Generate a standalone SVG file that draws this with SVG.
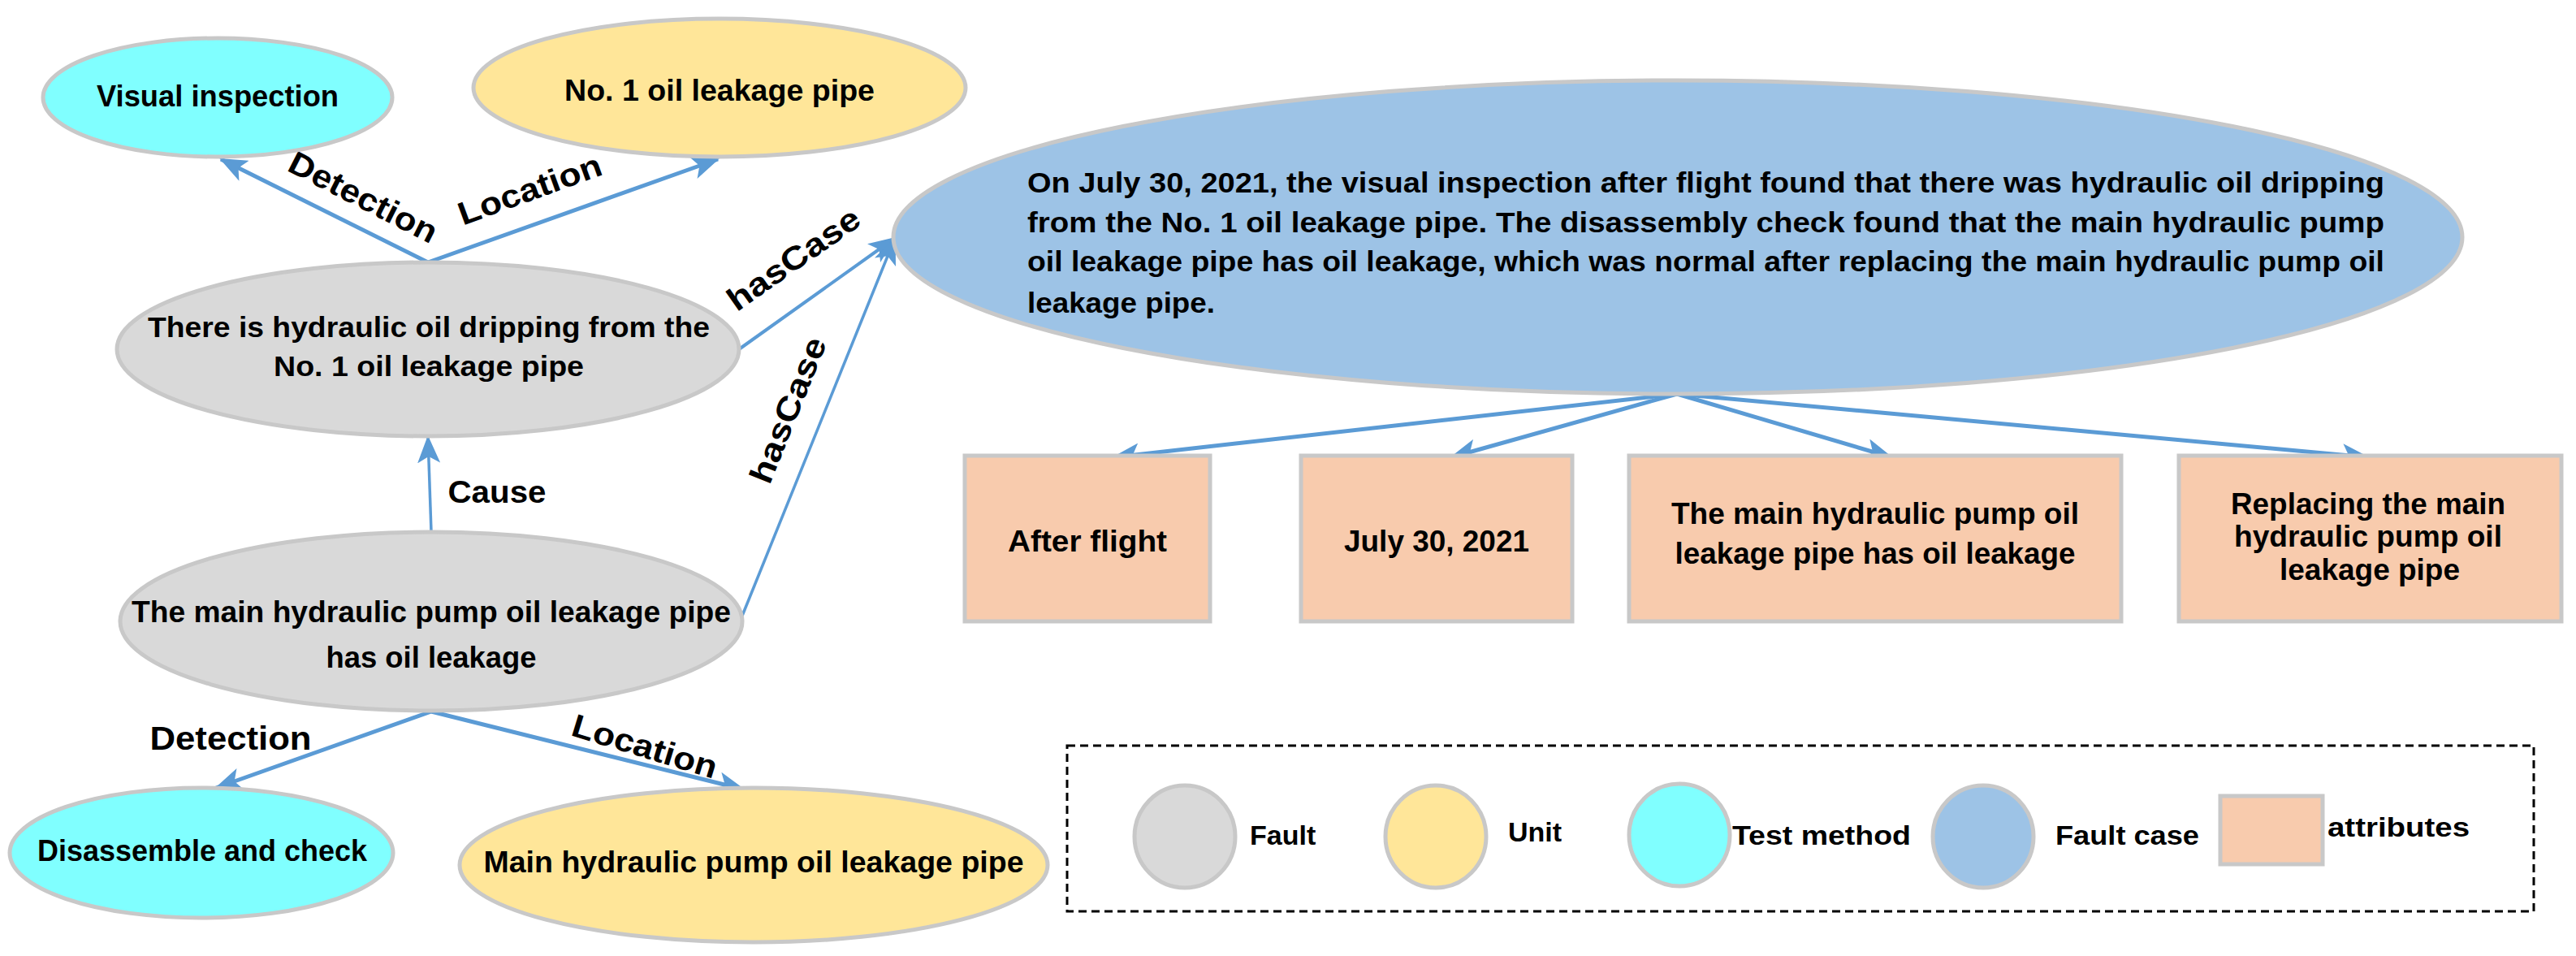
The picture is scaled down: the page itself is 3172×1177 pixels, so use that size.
<svg xmlns="http://www.w3.org/2000/svg" width="3172" height="1177" viewBox="0 0 3172 1177">
<defs>
<marker id="ah" markerUnits="userSpaceOnUse" markerWidth="34" markerHeight="28" refX="32" refY="14" orient="auto"><path d="M0,0 L34,14 L0,28 L8,14 Z" fill="#5b9bd5"/></marker>
<style>
.t{font-family:"Liberation Sans",Arial,sans-serif;font-weight:bold;fill:#000;text-anchor:middle}
.n{stroke:#c8c8c8;stroke-width:5}
.e{stroke:#5b9bd5;fill:none;marker-end:url(#ah)}
.cy{fill:#80ffff}.ye{fill:#ffe699}.gr{fill:#d9d9d9}.bl{fill:#9dc3e6}.pk{fill:#f8cbad}
</style>
</defs>
<rect width="3172" height="1177" fill="#fff"/>
<g id="connectors">
<line class="e" stroke-width="5" x1="527" y1="323" x2="272" y2="196"/>
<line class="e" stroke-width="5" x1="527" y1="323" x2="884" y2="196"/>
<line class="e" stroke-width="4" x1="910" y1="430" x2="1102" y2="293"/>
<line class="e" stroke-width="3.5" x1="914" y1="758" x2="1102" y2="293"/>
<line class="e" stroke-width="3.5" x1="531" y1="655" x2="527" y2="538"/>
<line class="e" stroke-width="5" x1="531" y1="876" x2="266" y2="970"/>
<line class="e" stroke-width="5" x1="531" y1="876" x2="916" y2="972"/>
<line class="e" stroke-width="5" x1="2065" y1="485" x2="1371" y2="563"/>
<line class="e" stroke-width="5" x1="2065" y1="485" x2="1787" y2="563"/>
<line class="e" stroke-width="5" x1="2065" y1="485" x2="2329" y2="563"/>
<line class="e" stroke-width="5" x1="2065" y1="485" x2="2916" y2="563"/>
<text class="t" font-size="40" transform="translate(441,255) rotate(27)" textLength="200" lengthAdjust="spacingAndGlyphs">Detection</text>
<text class="t" font-size="40" transform="translate(657,246) rotate(-20)" textLength="185" lengthAdjust="spacingAndGlyphs">Location</text>
<text class="t" font-size="40" transform="translate(985,330) rotate(-35)" textLength="190" lengthAdjust="spacingAndGlyphs">hasCase</text>
<text class="t" font-size="40" transform="translate(983,510) rotate(-68)" textLength="190" lengthAdjust="spacingAndGlyphs">hasCase</text>
<text class="t" font-size="38" x="612" y="619" textLength="121" lengthAdjust="spacingAndGlyphs">Cause</text>
<text class="t" font-size="40" x="284" y="923" textLength="199" lengthAdjust="spacingAndGlyphs">Detection</text>
<text class="t" font-size="40" transform="translate(790,932) rotate(17)" textLength="185" lengthAdjust="spacingAndGlyphs">Location</text>
</g>
<g id="visual-inspection"><ellipse class="n cy" cx="268" cy="120" rx="215" ry="73"/><text class="t" font-size="36" x="268" y="131" textLength="298" lengthAdjust="spacingAndGlyphs">Visual inspection</text></g>
<g id="no1-pipe"><ellipse class="n ye" cx="886" cy="108" rx="303" ry="85"/><text class="t" font-size="36" x="886" y="124" textLength="382" lengthAdjust="spacingAndGlyphs">No. 1 oil leakage pipe</text></g>
<g id="fault1"><ellipse class="n gr" cx="527" cy="430" rx="383" ry="107"/><text class="t" font-size="35" x="528" y="415" textLength="692" lengthAdjust="spacingAndGlyphs">There is hydraulic oil dripping from the</text><text class="t" font-size="35" x="528" y="463" textLength="382" lengthAdjust="spacingAndGlyphs">No. 1 oil leakage pipe</text></g>
<g id="fault2"><ellipse class="n gr" cx="531" cy="765" rx="383" ry="110"/><text class="t" font-size="36" x="531" y="766" textLength="738" lengthAdjust="spacingAndGlyphs">The main hydraulic pump oil leakage pipe</text><text class="t" font-size="36" x="531" y="822" textLength="259" lengthAdjust="spacingAndGlyphs">has oil leakage</text></g>
<g id="disassemble"><ellipse class="n cy" cx="248" cy="1050" rx="236" ry="80"/><text class="t" font-size="36" x="249" y="1060" textLength="406" lengthAdjust="spacingAndGlyphs">Disassemble and check</text></g>
<g id="main-pipe"><ellipse class="n ye" cx="928" cy="1065" rx="362" ry="95"/><text class="t" font-size="36" x="928" y="1074" textLength="665" lengthAdjust="spacingAndGlyphs">Main hydraulic pump oil leakage pipe</text></g>
<g id="fault-case"><ellipse class="n bl" cx="2066" cy="292" rx="966" ry="193"/>
<text class="t" font-size="35" text-anchor="start" style="text-anchor:start" x="1265" y="237" textLength="1671" lengthAdjust="spacingAndGlyphs">On July 30, 2021, the visual inspection after flight found that there was hydraulic oil dripping</text>
<text class="t" font-size="35" style="text-anchor:start" x="1265" y="286" textLength="1671" lengthAdjust="spacingAndGlyphs">from the No. 1 oil leakage pipe. The disassembly check found that the main hydraulic pump</text>
<text class="t" font-size="35" style="text-anchor:start" x="1265" y="334" textLength="1671" lengthAdjust="spacingAndGlyphs">oil leakage pipe has oil leakage, which was normal after replacing the main hydraulic pump oil</text>
<text class="t" font-size="35" style="text-anchor:start" x="1265" y="385" textLength="231" lengthAdjust="spacingAndGlyphs">leakage pipe.</text></g>
<g id="attr-after-flight"><rect class="n pk" x="1188" y="561" width="302" height="204"/><text class="t" font-size="36" x="1339" y="679" textLength="196" lengthAdjust="spacingAndGlyphs">After flight</text></g>
<g id="attr-date"><rect class="n pk" x="1602" y="561" width="334" height="204"/><text class="t" font-size="36" x="1769" y="679" textLength="228" lengthAdjust="spacingAndGlyphs">July 30, 2021</text></g>
<g id="attr-leak"><rect class="n pk" x="2006" y="561" width="606" height="204"/><text class="t" font-size="36" x="2309" y="645" textLength="502" lengthAdjust="spacingAndGlyphs">The main hydraulic pump oil</text><text class="t" font-size="36" x="2309" y="694" textLength="493" lengthAdjust="spacingAndGlyphs">leakage pipe has oil leakage</text></g>
<g id="attr-replace"><rect class="n pk" x="2683" y="561" width="471" height="204"/><text class="t" font-size="36" x="2916" y="633" textLength="338" lengthAdjust="spacingAndGlyphs">Replacing the main</text><text class="t" font-size="36" x="2916" y="673" textLength="330" lengthAdjust="spacingAndGlyphs">hydraulic pump oil</text><text class="t" font-size="36" x="2918" y="714" textLength="222" lengthAdjust="spacingAndGlyphs">leakage pipe</text></g>
<g id="legend">
<rect x="1314" y="918" width="1806" height="204" fill="none" stroke="#000" stroke-width="3" stroke-dasharray="10 6"/>
<ellipse class="n gr" cx="1459" cy="1030" rx="62" ry="63"/><text class="t" font-size="34" style="text-anchor:start" x="1539" y="1040">Fault</text>
<ellipse class="n ye" cx="1768" cy="1030" rx="62" ry="63"/><text class="t" font-size="34" style="text-anchor:start" x="1857" y="1036">Unit</text>
<ellipse class="n cy" cx="2068" cy="1028" rx="62" ry="63"/><text class="t" font-size="34" style="text-anchor:start" x="2133" y="1040" textLength="220" lengthAdjust="spacingAndGlyphs">Test method</text>
<ellipse class="n bl" cx="2442" cy="1030" rx="62" ry="63"/><text class="t" font-size="34" style="text-anchor:start" x="2531" y="1040" textLength="177" lengthAdjust="spacingAndGlyphs">Fault case</text>
<rect class="n pk" x="2734" y="980" width="126" height="84"/><text class="t" font-size="34" style="text-anchor:start" x="2866" y="1030" textLength="175" lengthAdjust="spacingAndGlyphs">attributes</text>
</g>
</svg>
